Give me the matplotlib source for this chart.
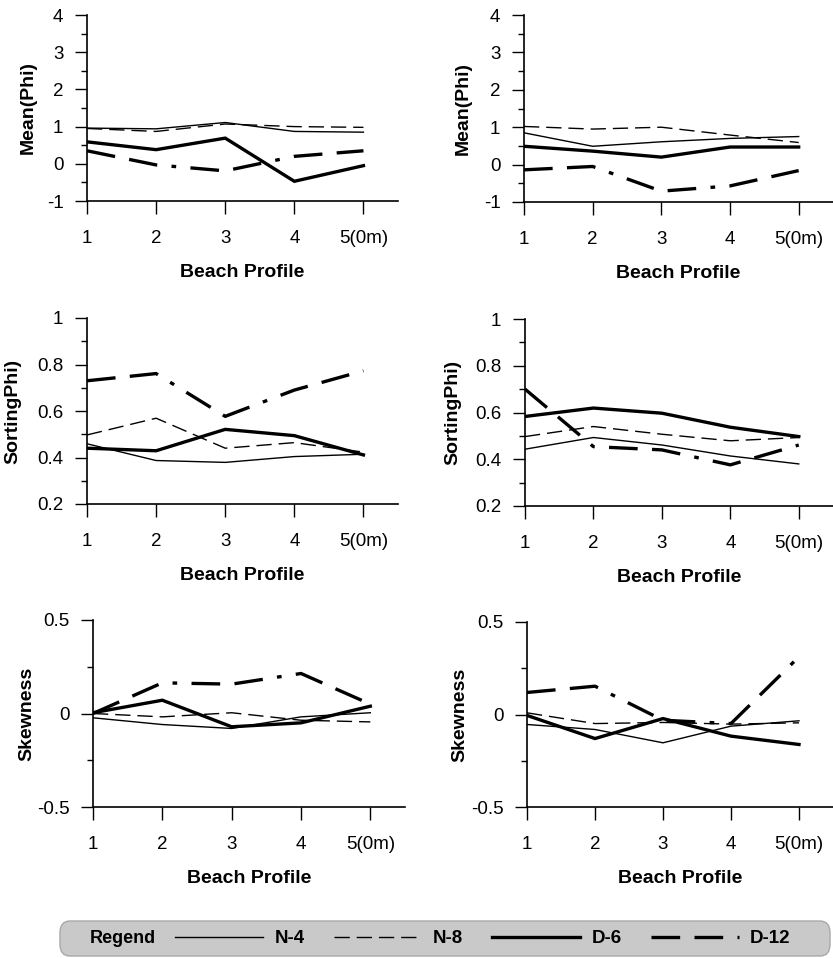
import matplotlib
matplotlib.use("Agg")
import matplotlib.pyplot as plt
from matplotlib.lines import Line2D
from matplotlib.patches import FancyBboxPatch
from matplotlib.ticker import MultipleLocator

plt.rcParams['font.family'] = ['Liberation Sans', 'DejaVu Sans']

profiles = [1, 2, 3, 4, 5]
xtick_labels = ["1", "2", "3", "4", "5(0m)"]
series_names = ["N-4", "N-8", "D-6", "D-12"]

# Mean (Phi)
mean_left_n4 = [0.96, 0.94, 1.11, 0.87, 0.85]
mean_left_n8 = [0.95, 0.87, 1.07, 1.00, 0.98]
mean_left_d6 = [0.59, 0.38, 0.69, -0.47, -0.05]
mean_left_d12 = [0.35, -0.03, -0.19, 0.20, 0.35]

mean_right_n4 = [0.85, 0.49, 0.61, 0.70, 0.75]
mean_right_n8 = [1.02, 0.95, 1.00, 0.79, 0.59]
mean_right_d6 = [0.49, 0.36, 0.20, 0.47, 0.47]
mean_right_d12 = [-0.14, -0.05, -0.71, -0.57, -0.16]

# Sorting (Phi)
sort_left_n4 = [0.459, 0.387, 0.379, 0.404, 0.414]
sort_left_n8 = [0.497, 0.569, 0.440, 0.464, 0.423]
sort_left_d6 = [0.440, 0.429, 0.521, 0.494, 0.411]
sort_left_d12 = [0.730, 0.761, 0.577, 0.690, 0.773]

sort_right_n4 = [0.443, 0.493, 0.461, 0.414, 0.380]
sort_right_n8 = [0.497, 0.540, 0.507, 0.479, 0.493]
sort_right_d6 = [0.583, 0.619, 0.597, 0.537, 0.497]
sort_right_d12 = [0.700, 0.454, 0.440, 0.376, 0.461]

# Skewness
skew_left_n4 = [-0.023, -0.059, -0.080, -0.018, 0.004]
skew_left_n8 = [0.000, -0.018, 0.004, -0.036, -0.045]
skew_left_d6 = [0.004, 0.071, -0.071, -0.050, 0.039]
skew_left_d12 = [0.000, 0.164, 0.157, 0.214, 0.050]

skew_right_n4 = [-0.054, -0.081, -0.153, -0.063, -0.034]
skew_right_n8 = [0.009, -0.049, -0.043, -0.052, -0.045]
skew_right_d6 = [-0.005, -0.130, -0.022, -0.117, -0.162]
skew_right_d12 = [0.119, 0.153, -0.031, -0.049, 0.312]

styles = {
    "N-4": dict(color="black", lw=1.0, linestyle="-"),
    "N-8": dict(color="black", lw=1.0, linestyle=(0, (11, 5))),
    "D-6": dict(color="black", lw=2.4, linestyle="-"),
    "D-12": dict(color="black", lw=2.4, linestyle=(0, (8.6, 4.3, 8.6, 4.3, 1.4, 4.3))),
}

W, H = 833, 958
fig = plt.figure(figsize=(W / 100, H / 100), dpi=100)

def px_axes(left, right, top, bottom):
    return fig.add_axes([left / W, 1 - bottom / H, (right - left) / W, (bottom - top) / H])

panels = [
    # (box px, data, ylim, major, minor, ylabel, label_x)
    ((87, 398, 15, 201), [mean_left_n4, mean_left_n8, mean_left_d6, mean_left_d12],
     (-1, 4), 1, 0.5, "Mean(Phi)", -0.16),
    ((524, 833, 15, 202), [mean_right_n4, mean_right_n8, mean_right_d6, mean_right_d12],
     (-1, 4), 1, 0.5, "Mean(Phi)", -0.168),
    ((87, 398, 318, 504), [sort_left_n4, sort_left_n8, sort_left_d6, sort_left_d12],
     (0.2, 1.0), 0.2, 0.1, "SortingPhi)", -0.21),
    ((525, 833, 319, 506), [sort_right_n4, sort_right_n8, sort_right_d6, sort_right_d12],
     (0.2, 1.0), 0.2, 0.1, "SortingPhi)", -0.205),
    ((93, 405, 620, 807), [skew_left_n4, skew_left_n8, skew_left_d6, skew_left_d12],
     (-0.5, 0.5), 0.5, 0.25, "Skewness", -0.186),
    ((527, 833, 622, 807), [skew_right_n4, skew_right_n8, skew_right_d6, skew_right_d12],
     (-0.5, 0.5), 0.5, 0.25, "Skewness", -0.193),
]

for box, data, ylim, major, minor, ylabel, lx in panels:
    ax = px_axes(*box)
    for name, vals in zip(series_names, data):
        ax.plot(profiles, vals, **styles[name], solid_joinstyle="miter")
    ax.set_xlim(1, 5.5)
    ax.set_ylim(*ylim)
    ax.set_xticks(profiles)
    ax.set_xticklabels(xtick_labels, fontsize=13)
    ax.yaxis.set_major_locator(MultipleLocator(major))
    ax.yaxis.set_minor_locator(MultipleLocator(minor))
    ax.tick_params(axis="y", which="major", length=9, width=1, pad=8, labelsize=13.5, direction="out")
    ax.tick_params(axis="y", which="minor", length=4, width=1, direction="out")
    ax.tick_params(axis="x", which="major", length=9, width=1, pad=12, labelsize=13.5, direction="out")
    ax.yaxis.set_major_formatter(plt.FuncFormatter(lambda v, p: f"{v:g}"))
    for s in ("top", "right"):
        ax.spines[s].set_visible(False)
    for s in ("left", "bottom"):
        ax.spines[s].set_linewidth(1.2)
    ax.spines["bottom"].set_clip_on(False)
    ax.set_xlabel("Beach Profile", fontsize=14, fontweight="bold", labelpad=12)
    ax.set_ylabel(ylabel, fontsize=14, fontweight="bold")
    ax.yaxis.set_label_coords(lx, 0.5)

# Legend box
bx0, bx1, by0, by1 = 60, 830, 921, 956
box = FancyBboxPatch((bx0 / W, 1 - by1 / H), (bx1 - bx0) / W, (by1 - by0) / H,
                     boxstyle="round,pad=0,rounding_size=0.012",
                     transform=fig.transFigure, facecolor="#c9c9c9",
                     edgecolor="#a8a8a8", linewidth=1.0, zorder=0)
fig.patches.append(box)
fig.text(90 / W, 1 - 938.5 / H, "Regend", fontsize=13, fontweight="bold",
         ha="left", va="center")

handles = [Line2D([], [], **styles[n]) for n in series_names]
leg = fig.legend(handles, series_names, ncol=4, frameon=False,
                 loc="center left", bbox_to_anchor=(175 / W, 1 - 938.5 / H),
                 handlelength=4.7, handletextpad=0.6, columnspacing=1.55,
                 borderpad=0, borderaxespad=0,
                 prop=dict(size=13.5, weight="bold"))

fig.savefig("out.png", dpi=100)
